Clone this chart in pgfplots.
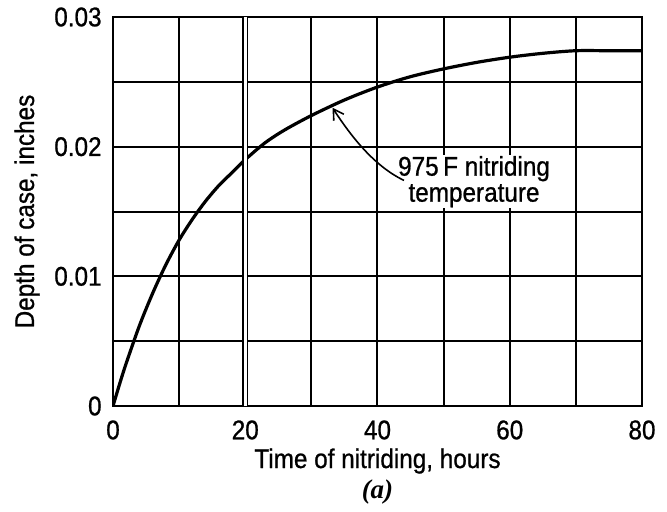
\documentclass[border=0pt]{standalone}
\usepackage{fontspec}
\setmainfont{Liberation Sans}[FakeStretch=0.9, FakeBold=0.8]
\newfontfamily\capfont{Liberation Serif}
\usepackage{pgfplots}
\pgfplotsset{compat=1.18}
\usetikzlibrary{arrows.meta, calc}

\newcommand\lblfont{\fontsize{13.5}{13}\selectfont}

\begin{document}
\begin{tikzpicture}
% page frame, same proportions as the reference
\useasboundingbox (-56.5pt,-52.5pt) rectangle (277pt,203pt);
\begin{axis}[
  name=ax, at={(0,0)}, anchor=south west,
  scale only axis, width=264.5pt, height=194.5pt,
  xmin=0, xmax=80, ymin=0, ymax=0.03,
  xtick={0,20,...,80}, minor xtick={10,30,50,70},
  ytick={0,0.01,0.02,0.03}, yticklabels={0,0.01,0.02,0.03},
  minor ytick={0.005,0.015,0.025},
  scaled y ticks=false,
  major tick length=0pt, minor tick length=0pt,
  grid=both,
  major grid style={black, line width=1pt},
  minor grid style={black, line width=1pt},
  axis line style={line width=1.4pt},
  tick label style={font=\lblfont, inner sep=0pt},
  xticklabel style={anchor=north, yshift=-7pt},
  yticklabel style={anchor=east, xshift=-5.5pt},
  /pgf/number format/assume math mode=true,
]
\addplot[black, line width=1.6pt, smooth] coordinates {
  (0,0) (1,0.0017) (2,0.0033) (4,0.0062) (6,0.0087) (8,0.0109) (10,0.0128)
  (12,0.0144) (14,0.0158) (16,0.0170) (18,0.0180) (20,0.0190)
  (23,0.0203) (26,0.0213) (30,0.0224) (35,0.0236) (40,0.0246)
  (45,0.0254) (50,0.0260) (55,0.0265) (60,0.0269) (65,0.0272)
  (70,0.0274) (75,0.0274) (80,0.0274)};
% the 20 h grid line is drawn double in the original
\draw[black, line width=0.8pt, double=white, double distance=1.4pt]
  (axis cs:20,0) -- (axis cs:20,0.03);
\node[fill=white, align=center, font=\lblfont, inner xsep=2pt, inner ysep=0.5pt]
  at (axis cs:54.6,0.0173) {975\,F nitriding\\temperature};
\draw[line width=0.8pt, -{Straight Barb[length=5pt, width=6pt]}]
  (axis cs:44.0,0.0174) .. controls (axis cs:39.5,0.0185) and (axis cs:36,0.0208)
  .. (axis cs:33.2,0.0230);
\end{axis}
\node[rotate=90, font=\lblfont, inner sep=0pt] at ([xshift=-43pt]ax.west)
  {Depth of case, inches};
\node[anchor=base, font=\lblfont, inner sep=0pt] at ([yshift=-31pt]ax.south)
  {Time of nitriding, hours};
\node[anchor=base, font=\lblfont\capfont\bfseries\itshape, inner sep=0pt]
  at ([yshift=-46pt]ax.south) {(a)};
\end{tikzpicture}
\end{document}
